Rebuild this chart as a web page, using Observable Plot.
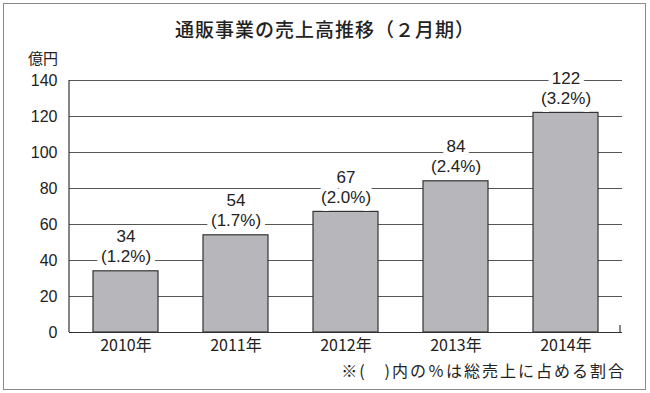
<!DOCTYPE html>
<html><head><meta charset="utf-8">
<script src="https://cdn.jsdelivr.net/npm/d3@7"></script>
<script src="https://cdn.jsdelivr.net/npm/@observablehq/plot@0.6"></script>
<style>
html,body{margin:0;padding:0;background:#fff;}
#wrap{position:relative;width:650px;height:393px;overflow:hidden;font-family:"Noto Sans CJK JP","Noto Sans",sans-serif;color:#222;}
#border{position:absolute;left:3px;top:3px;width:641px;height:385px;border:1.5px solid #8a8a8a;}
#title{position:absolute;left:0;top:15px;width:650px;text-align:center;font-size:19px;letter-spacing:1px;line-height:28px;font-weight:500;}
#unit{position:absolute;left:28px;top:48px;font-size:15px;line-height:20px;}
#note{position:absolute;right:24px;top:359px;font-size:16px;line-height:22px;letter-spacing:2px;}
#chart{position:absolute;left:0;top:0;}
</style></head>
<body><div id="wrap"><div id="border"></div><div id="chart"></div>
<div id="title">通販事業の売上高推移（２月期）</div>
<div id="unit">億円</div>
<div id="note">※(　)内の％は総売上に占める割合</div>
</div>
<script>
const years = ["2010年","2011年","2012年","2013年","2014年"];
const sales = [34,54,67,84,122];
const shares = ["1.2%","1.7%","2.0%","2.4%","3.2%"];
const yTicks = [0,20,40,60,80,100,120,140];

const data = years.map((y,i)=>({year:y, sales:sales[i], share:shares[i]}));
const numFont = '"Liberation Sans",Arial,sans-serif';

const frameLines = (index, scales, values, dims) => {
  const g = d3.create("svg:g");
  const x0 = dims.marginLeft, x1 = dims.width - dims.marginRight;
  const yb = scales.y(0), yt = scales.y(140);
  g.append("line").attr("x1",x0).attr("x2",x0).attr("y1",yt).attr("y2",yb).attr("stroke","#333").attr("stroke-width",1.2);
  g.append("line").attr("x1",x1-2).attr("x2",x1-2).attr("y1",yb-7).attr("y2",yb).attr("stroke","#333").attr("stroke-width",1.2);
  return g.node();
};

const chart = Plot.plot({
  width: 650, height: 393,
  marginLeft: 69, marginRight: 28, marginTop: 80, marginBottom: 61,
  style: {fontFamily: '"Noto Sans CJK JP","Noto Sans",sans-serif', color: "#222", background: "transparent"},
  x: {domain: years, padding: 0.41, paddingOuter: 0.2, label: null},
  y: {domain: [0,140], label: null},
  marks: [
    Plot.ruleY(yTicks.filter(d=>d>0), {stroke:"#555", strokeWidth:1}),
    Plot.barY(data, {x:"year", y:"sales", fill:"#b7b7bb", stroke:"#333", strokeWidth:1.2}),
    Plot.text(data, {x:"year", y:"sales", text: d => `(${d.share})`, lineAnchor:"bottom", dy:-9, fontSize:17, fontFamily:numFont, fill:"#222", stroke:"white", strokeWidth:10}),
    Plot.text(data, {x:"year", y:"sales", text: d => `${d.sales}`, lineAnchor:"bottom", dy:-29, fontSize:17, fontFamily:numFont, fill:"#222", stroke:"white", strokeWidth:10}),
    Plot.ruleY([0], {stroke:"#333", strokeWidth:1.2}),
    frameLines,
    Plot.axisY({ticks: yTicks, tickSize:0, tickPadding:12, fontSize:16, fontFamily:numFont, label:null}),
    Plot.axisX({tickSize:0, tickPadding:7, fontSize:16, label:null})
  ]
});
document.getElementById("chart").appendChild(chart);
</script>
</body></html>
